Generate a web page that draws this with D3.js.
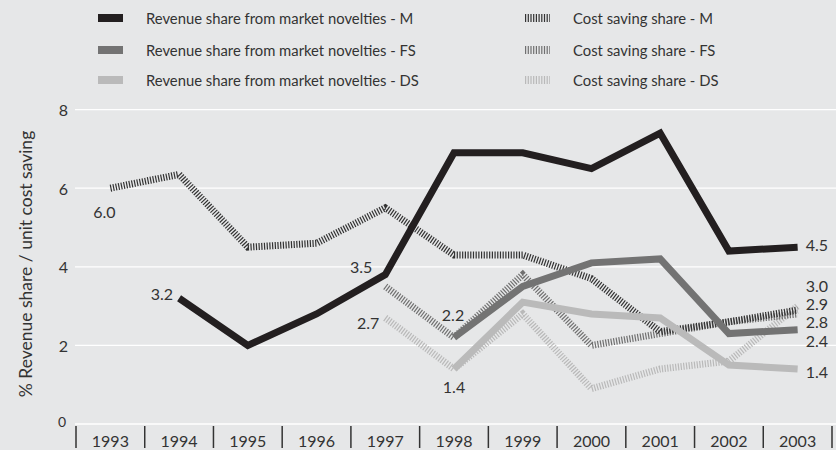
<!DOCTYPE html>
<html>
<head>
<meta charset="utf-8">
<script src="https://cdn.jsdelivr.net/npm/d3@7/dist/d3.min.js"></script>
<style>
  html, body { margin: 0; padding: 0; background: #e6e7e8; }
  svg { display: block; font-family: Lato, "Noto Sans", sans-serif; }
</style>
</head>
<body>
<div id="chart"></div>
<script>
// ── Data ────────────────────────────────────────────────────────────────
const YEARS = ['1993','1994','1995','1996','1997','1998','1999','2000','2001','2002','2003'];
const Y_TICKS = [0, 2, 4, 6, 8];

// null = no value that year
const REV_M  = [null, 3.2, 2.0, 2.8, 3.8, 6.9, 6.9, 6.5, 7.4, 4.4, 4.5];
const REV_FS = [null, null, null, null, null, 2.2, 3.5, 4.1, 4.2, 2.3, 2.4];
const REV_DS = [null, null, null, null, null, 1.4, 3.1, 2.8, 2.7, 1.5, 1.4];
const COST_M  = [6.0, 6.35, 4.5, 4.6, 5.5, 4.3, 4.3, 3.7, 2.35, 2.6, 2.9];
const COST_FS = [null, null, null, null, 3.5, 2.2, 3.8, 2.0, 2.3, 2.6, 2.8];
const COST_DS = [null, null, null, null, 2.7, 1.4, 2.8, 0.9, 1.4, 1.6, 3.0];

const SERIES = [
  { key: 'costDS', label: 'Cost saving share - DS', values: COST_DS, hatched: true,  color: '#b9b9b9' },
  { key: 'costFS', label: 'Cost saving share - FS', values: COST_FS, hatched: true,  color: '#707070' },
  { key: 'costM',  label: 'Cost saving share - M',  values: COST_M,  hatched: true,  color: '#333333' },
  { key: 'revDS',  label: 'Revenue share from market novelties - DS', values: REV_DS, hatched: false, color: '#bababa' },
  { key: 'revFS',  label: 'Revenue share from market novelties - FS', values: REV_FS, hatched: false, color: '#737373' },
  { key: 'revM',   label: 'Revenue share from market novelties - M',  values: REV_M,  hatched: false, color: '#231f20' },
];

// value labels: which series / year gets its number printed, and where
const VALUE_LABELS = [
  { key: 'costM',  year: '1993', anchor: 'middle', dx: -6,  dy: 23 },
  { key: 'revM',   year: '1994', anchor: 'end',    dx: -6,  dy: -5 },
  { key: 'costFS', year: '1997', anchor: 'end',    dx: -13, dy: -20 },
  { key: 'costDS', year: '1997', anchor: 'end',    dx: -6,  dy: 5 },
  { key: 'revFS',  year: '1998', anchor: 'middle', dx: -1,  dy: -23 },
  { key: 'revDS',  year: '1998', anchor: 'middle', dx: 0,   dy: 18 },
  { key: 'revM',   year: '2003', anchor: 'start',  dx: 8,   dy: -3 },
  { key: 'costDS', year: '2003', anchor: 'start',  dx: 8,   dy: -21 },
  { key: 'costM',  year: '2003', anchor: 'start',  dx: 8,   dy: -7 },
  { key: 'costFS', year: '2003', anchor: 'start',  dx: 8,   dy: 8 },
  { key: 'revFS',  year: '2003', anchor: 'start',  dx: 8,   dy: 11 },
  { key: 'revDS',  year: '2003', anchor: 'start',  dx: 8,   dy: 3 },
];

// ── Layout ──────────────────────────────────────────────────────────────
const W = 836, H = 450;
const TEXT = '#333333';
const HATCH_DASH = '1.2,1.5';

const svg = d3.select('#chart').append('svg')
  .attr('width', W).attr('height', H);

svg.append('rect').attr('width', W).attr('height', H).attr('fill', '#e6e7e8');

const x = d3.scaleBand().domain(YEARS).range([76, 832]);
const y = d3.scaleLinear().domain([0, 8]).range([424, 109.6]);
const cx = function (yr) { return x(yr) + x.bandwidth() / 2; };

// gridlines
svg.append('g').selectAll('line')
  .data(Y_TICKS)
  .join('line')
  .attr('x1', 75).attr('x2', W)
  .attr('y1', function (d) { return y(d); })
  .attr('y2', function (d) { return y(d); })
  .attr('stroke', '#ffffff')
  .attr('stroke-width', 1.3);

// y tick labels
svg.append('g').selectAll('text')
  .data(Y_TICKS)
  .join('text')
  .attr('x', function (d) { return d === 0 ? 66 : 68; })
  .attr('y', function (d) { return d === 0 ? y(d) - 3 : y(d); })
  .attr('text-anchor', 'end')
  .attr('dominant-baseline', 'central')
  .attr('font-size', function (d) { return d === 0 ? '14px' : '16px'; })
  .attr('fill', TEXT)
  .text(function (d) { return d; });

// y title
svg.append('text')
  .attr('transform', 'translate(25,' + 264 + ') rotate(-90)')
  .attr('text-anchor', 'middle')
  .attr('dominant-baseline', 'central')
  .attr('font-size', '17.5px')
  .attr('fill', TEXT)
  .text('% Revenue share / unit cost saving');

// x separators + year labels
const bounds = YEARS.map(function (yr) { return x(yr); }).concat([x.range()[1]]);
svg.append('g').selectAll('line')
  .data(bounds)
  .join('line')
  .attr('x1', function (d) { return d; }).attr('x2', function (d) { return d; })
  .attr('y1', 426).attr('y2', 448)
  .attr('stroke', TEXT)
  .attr('stroke-width', 1.5);

svg.append('g').selectAll('text')
  .data(YEARS)
  .join('text')
  .attr('x', cx)
  .attr('y', 440)
  .attr('text-anchor', 'middle')
  .attr('dominant-baseline', 'central')
  .attr('font-size', '16px')
  .attr('fill', TEXT)
  .text(function (d) { return d; });

// lines
const line = d3.line()
  .defined(function (d) { return d != null; })
  .x(function (d, i) { return cx(YEARS[i]); })
  .y(function (d) { return y(d); });

svg.append('g').selectAll('path')
  .data(SERIES)
  .join('path')
  .attr('d', function (s) { return line(s.values); })
  .attr('fill', 'none')
  .attr('stroke', function (s) { return s.color; })
  .attr('stroke-width', 7)
  .attr('stroke-linejoin', 'miter')
  .attr('stroke-dasharray', function (s) { return s.hatched ? HATCH_DASH : null; });

// value labels
const byKey = {};
SERIES.forEach(function (s) { byKey[s.key] = s; });

svg.append('g').selectAll('text')
  .data(VALUE_LABELS)
  .join('text')
  .attr('x', function (d) { return cx(d.year) + d.dx; })
  .attr('y', function (d) { return y(byKey[d.key].values[YEARS.indexOf(d.year)]) + d.dy; })
  .attr('text-anchor', function (d) { return d.anchor; })
  .attr('dominant-baseline', 'central')
  .attr('font-size', '16px')
  .attr('fill', TEXT)
  .text(function (d) { return byKey[d.key].values[YEARS.indexOf(d.year)].toFixed(1); });

// legend
const LEGEND = [
  { key: 'revM',   col: 0, row: 0 },
  { key: 'revFS',  col: 0, row: 1 },
  { key: 'revDS',  col: 0, row: 2 },
  { key: 'costM',  col: 1, row: 0 },
  { key: 'costFS', col: 1, row: 1 },
  { key: 'costDS', col: 1, row: 2 },
];
const colX = [98, 525], rowY = [18, 50, 80];

const leg = svg.append('g').selectAll('g')
  .data(LEGEND)
  .join('g')
  .attr('transform', function (d) { return 'translate(' + colX[d.col] + ',' + rowY[d.row] + ')'; });

leg.append('line')
  .attr('x1', 0).attr('x2', 25)
  .attr('y1', 0).attr('y2', 0)
  .attr('stroke', function (d) { return byKey[d.key].color; })
  .attr('stroke-width', 8)
  .attr('stroke-dasharray', function (d) { return byKey[d.key].hatched ? HATCH_DASH : null; });

leg.append('text')
  .attr('x', 48)
  .attr('y', 0)
  .attr('dominant-baseline', 'central')
  .attr('font-size', '14.8px')
  .attr('fill', TEXT)
  .text(function (d) { return byKey[d.key].label; });
</script>
</body>
</html>
